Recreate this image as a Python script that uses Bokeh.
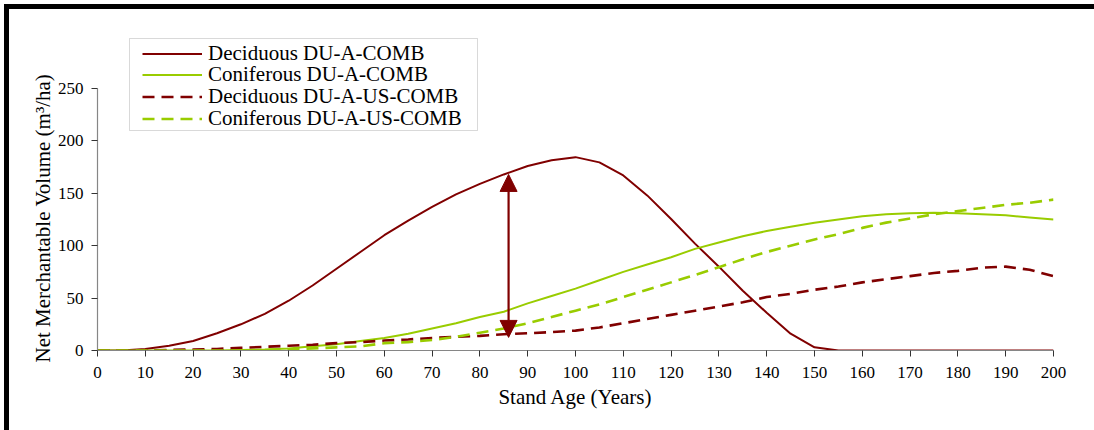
from bokeh.plotting import figure
from bokeh.models import (Range1d, FixedTicker, Legend, LegendItem, Arrow, NormalHead,
                          ColumnDataSource, BoxAnnotation, Title)
from bokeh.embed import file_html
from bokeh.resources import INLINE

# ---------------- data ----------------
years = list(range(0, 205, 5))

deciduous_comb = [0, 0, 1.5, 4.5, 9, 16.5, 25, 35, 47.5, 62, 78, 94, 110, 124, 137, 149, 159, 168, 176, 181.5,
                  184.5, 179.5, 167, 148, 125.5, 102, 80, 57, 36, 16, 3, 0, 0, 0, 0, 0, 0, 0, 0, 0, 0]
coniferous_comb = [0, 0, 0, 0, 0, 0, 0.5, 1, 2, 4, 6, 9, 12, 16, 21, 26, 32, 37, 45, 52,
                   59, 67, 75, 82, 89, 97, 103, 109, 114, 118, 122, 125, 128, 130, 131, 131.5, 131, 130, 129, 127, 125]
deciduous_us_comb = [0, 0, 0, 0.5, 1, 1.5, 2.5, 3.5, 4.5, 5.5, 7, 8, 9.5, 10.5, 12, 13, 14, 15.5, 16.5, 17.5,
                     19, 22, 26, 30, 34, 38, 42, 46, 51, 54, 58, 61, 65, 68, 71, 74, 76, 79, 80, 77, 71]
coniferous_us_comb = [0, 0, 0, 0, 0, 0, 0, 0.5, 1, 2, 3, 4, 7, 8, 10, 13, 17, 21, 26, 32,
                      38, 44, 51, 58, 65, 72, 79.5, 87, 94, 100, 106, 111, 117, 122, 126, 130, 133, 136, 139, 141, 144]

series_names = ["Deciduous DU-A-COMB", "Coniferous DU-A-COMB",
                "Deciduous DU-A-US-COMB", "Coniferous DU-A-US-COMB"]

x_label = "Stand Age (Years)"
y_label = "Net Merchantable Volume (m\u00b3/ha)"
x_ticks = list(range(0, 201, 10))
y_ticks = list(range(0, 251, 50))
y_axis_max = 250

# arrow showing the difference at age 86
arrow_age = 86
arrow_low = 12.5
arrow_high = 168

RED = "#800000"
GREEN = "#99CC00"
FONT = "Liberation Serif"

# ---------------- layout ----------------
W, H = 1094, 430
left, right, bottom = 97, 41, 80
axis_top_px = 88          # pixel row of the 250 tick
frame_top = 10            # frame extends above the axis so the legend is not clipped
frame_bottom_px = H - bottom
px_per_unit = (frame_bottom_px - axis_top_px) / y_axis_max
y_end = y_axis_max + (axis_top_px - frame_top) / px_per_unit

p = figure(width=W, height=H, output_backend="svg", toolbar_location=None,
           x_range=Range1d(0, 200), y_range=Range1d(0, y_end),
           min_border_left=left, min_border_right=right, min_border_top=frame_top,
           min_border_bottom=bottom)
p.outline_line_color = None
p.background_fill_color = "white"
p.border_fill_color = None
p.styles = {"background-color": "white",
            "box-shadow": "inset 4px 4px 0 0 white, inset 9px 9px 0 0 black"}
p.xgrid.visible = False
p.ygrid.visible = False

src = ColumnDataSource(dict(x=years, a=deciduous_comb, b=coniferous_comb,
                            c=deciduous_us_comb, d=coniferous_us_comb))

r1 = p.line("x", "a", source=src, line_color=RED, line_width=2)
r2 = p.line("x", "b", source=src, line_color=GREEN, line_width=2)
r3 = p.line("x", "c", source=src, line_color=RED, line_width=2.6, line_dash="12 7")
r4 = p.line("x", "d", source=src, line_color=GREEN, line_width=2.6, line_dash="12 7")

# axes
for ax in (p.xaxis[0], p.yaxis[0]):
    ax.axis_line_color = "#868686"
    ax.axis_line_width = 1.2
    ax.major_tick_line_color = "#333333"
    ax.major_tick_in = 0
    ax.major_tick_out = 6
    ax.minor_tick_line_color = None
    ax.major_label_text_font = FONT
    ax.major_label_text_font_size = "17px"
    ax.major_label_text_color = "black"
    ax.axis_label_text_font = FONT
    ax.axis_label_text_font_size = "21px"
    ax.axis_label_text_font_style = "normal"
    ax.axis_label_text_color = "black"

p.xaxis.ticker = FixedTicker(ticks=x_ticks)
p.yaxis.ticker = FixedTicker(ticks=y_ticks)
p.yaxis.bounds = (0, y_axis_max)
p.xaxis.axis_label = x_label
p.xaxis.major_label_standoff = 10
p.xaxis.axis_label_standoff = 4
p.yaxis.major_label_standoff = 8

# y-axis title: starts just below the frame bottom and reads upwards
p.add_layout(Title(text=y_label, align="left", offset=-12,
                   text_font=FONT, text_font_size="21px", text_font_style="normal",
                   text_color="black", standoff=0), "left")

# arrow
head_kw = dict(size=17, fill_color=RED, line_color=RED)
p.add_layout(Arrow(start=NormalHead(**head_kw), end=NormalHead(**head_kw),
                   x_start=arrow_age, y_start=arrow_low, x_end=arrow_age, y_end=arrow_high,
                   line_color=RED, line_width=2.2))

# legend: a framed box with one single-item legend per row (tight row pitch)
box_l, box_r, box_t, box_b = 129, 477, 38, 130
p.add_layout(BoxAnnotation(left=box_l, right=box_r, top=box_t, bottom=box_b,
                           left_units="canvas", right_units="canvas",
                           top_units="canvas", bottom_units="canvas",
                           fill_color="white", fill_alpha=1,
                           line_color="#808080", line_width=1))
row_pitch = 21.7
first_row_center = 53
item_h = 25
for i, (name, r) in enumerate(zip(series_names, [r1, r2, r3, r4])):
    center = first_row_center + i * row_pitch
    lg = Legend(items=[LegendItem(label=name, renderers=[r])],
                location=(box_l + 13 - left, frame_bottom_px - (center + item_h / 2)))
    lg.label_text_font = FONT
    lg.label_text_font_size = "21px"
    lg.label_text_color = "black"
    lg.label_height = 21
    lg.glyph_height = 21
    lg.glyph_width = 60
    lg.label_standoff = 6
    lg.spacing = 0
    lg.padding = 0
    lg.margin = 0
    lg.border_line_color = None
    lg.background_fill_alpha = 0
    p.add_layout(lg, "center")

open("out.html", "w").write(file_html(p, INLINE))
